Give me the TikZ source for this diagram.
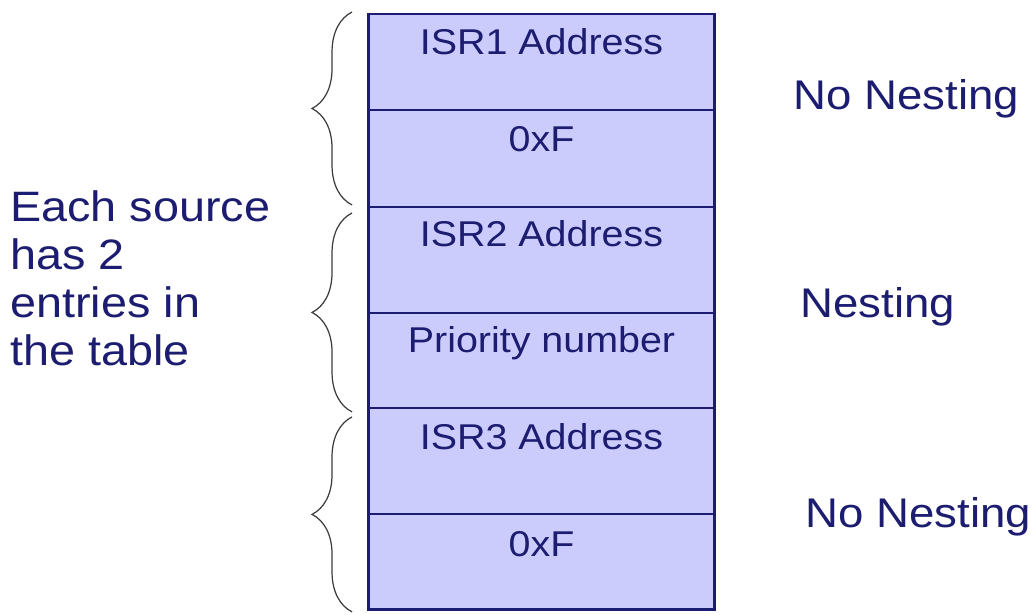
\documentclass[tikz,border=0pt]{standalone}
\usepackage{fontspec}
\setmainfont{Liberation Sans}[FakeStretch=1.1]
\usepackage{tikz}
\usetikzlibrary{positioning, calc, decorations.pathreplacing}

\definecolor{navy}{RGB}{28,28,112}
\definecolor{lavender}{RGB}{204,204,252}
\definecolor{bracegray}{RGB}{60,60,60}

\begin{document}
\begin{tikzpicture}[
  x=0.02cm, y=-0.02cm,
  cell/.style  = {draw=navy, fill=lavender, line width=1.1pt, rectangle,
                  minimum width=6.94cm, inner sep=0pt, outer sep=0pt},
  entry/.style = {text=navy, font=\fontsize{20.4}{24}\selectfont, inner sep=0pt},
  note/.style  = {text=navy, font=\fontsize{23.6}{27}\selectfont, inner sep=0pt, anchor=base west},
  brc/.style   = {draw=bracegray, line width=0.7pt, decorate,
                  decoration={brace, amplitude=0.8cm}},
]
  \useasboundingbox (0,0) rectangle (1036,615);

  % the table, six rows stacked top to bottom
  \node[cell, minimum height=1.92cm, anchor=north] (r1) at (541.5,14) {};
  \node[cell, minimum height=1.94cm, below=0pt of r1] (r2) {};
  \node[cell, minimum height=2.12cm, below=0pt of r2] (r3) {};
  \node[cell, minimum height=1.90cm, below=0pt of r3] (r4) {};
  \node[cell, minimum height=2.12cm, below=0pt of r4] (r5) {};
  \node[cell, minimum height=1.92cm, below=0pt of r5] (r6) {};
  \draw[navy, line width=1.7pt] (r1.north west) rectangle (r6.south east);

  % row texts sit near the top of each row
  \node[entry, anchor=base] (t1) at ($(r1.north)+(0,41)$) {ISR1 Address};
  \node[entry, anchor=base] (t2) at ($(r2.north)+(0,42)$) {0xF};
  \node[entry, anchor=base] (t3) at ($(r3.north)+(0,40)$) {ISR2 Address};
  \node[entry, anchor=base] (t4) at ($(r4.north)+(0,40)$) {Priority number};
  \node[entry, anchor=base] (t5) at ($(r5.north)+(0,42)$) {ISR3 Address};
  \node[entry, anchor=base] (t6) at ($(r6.north)+(0,43)$) {0xF};

  % one brace per source (two rows each)
  \draw[brc] ($(r2.south west)+(-16,-2)$) -- ($(r1.north west)+(-16,-2)$);
  \draw[brc] ($(r4.south west)+(-16,4)$)  -- ($(r3.north west)+(-16,6)$);
  \draw[brc] ($(r6.south west)+(-16,2)$)  -- ($(r5.north west)+(-16,9)$);

  % base of a multi-line node is its last line
  \node[text=navy, font=\fontsize{24.2}{27.3}\selectfont, inner sep=0pt,
        align=left, anchor=base west] (src) at (10,365)
        {Each source\\has 2\\entries in\\the table};

  \node[note] (n1) at (793,110) {No Nesting};
  \node[note] (n2) at (800,317) {Nesting};
  \node[note] (n3) at (805,527) {No Nesting};
\end{tikzpicture}
\end{document}
